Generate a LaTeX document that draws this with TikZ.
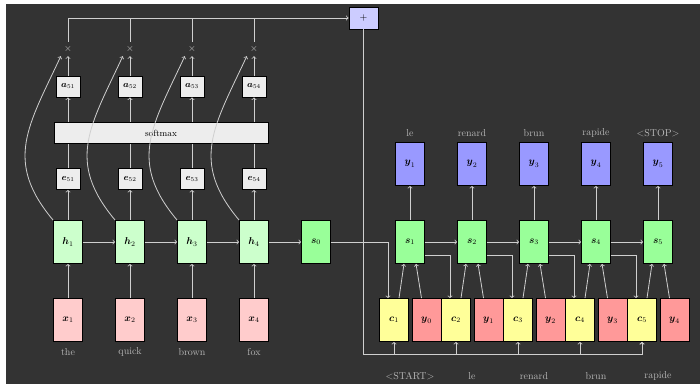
\documentclass[tikz,border=0pt]{standalone}
\usepackage{amsmath}
\usepackage{amssymb}
\usepackage{tikz}
\usetikzlibrary{arrows,calc,positioning}
\definecolor{bgcol}{HTML}{333333}
\definecolor{linecol}{HTML}{CFCFCF}
\definecolor{labcol}{HTML}{B8B8B8}
\definecolor{inpcol}{HTML}{FFCCCC}
\definecolor{hidcol}{HTML}{CCFFCC}
\definecolor{deccol}{HTML}{99FF99}
\definecolor{ctxcol}{HTML}{FFFF99}
\definecolor{prvcol}{HTML}{FF9999}
\definecolor{outcol}{HTML}{9999FF}
\definecolor{sumcol}{HTML}{CCCCFF}
\definecolor{attcol}{HTML}{EDEDED}
\tikzset{
    %Define standard arrow tip
    >=to,
    %Define style for boxes
    cell/.style={
           rectangle,
           draw=black, thick,
           minimum width=29pt,
           minimum height=43pt,
           inner sep=0pt,
           text centered},
    inp/.style={cell, fill=inpcol},
    hid/.style={cell, fill=hidcol},
    dec/.style={cell, fill=deccol},
    ctx/.style={cell, fill=ctxcol},
    prv/.style={cell, fill=prvcol},
    outp/.style={cell, fill=outcol},
    attn/.style={
           rectangle,
           draw=black, thick,
           minimum width=24pt,
           minimum height=21pt,
           inner sep=0pt,
           font=\small,
           fill=attcol},
    mult/.style={
           minimum size=14pt,
           inner sep=0pt,
           text=linecol},
    word/.style={
           text=labcol},
    % Define arrow style
    pil/.style={
           ->,
           draw=linecol,
           thick},
    wire/.style={
           draw=linecol,
           thick}
}

\begin{document}
\begin{tikzpicture}[x=1pt,y=1pt]
\useasboundingbox (0,0) rectangle (700,-387);
\fill[bgcol] (6,-4) rectangle (700,-384);
 %encoder nodes
\foreach \i/\x/\w in {1/68/the,2/130/quick,3/192/brown,4/254/fox}{
  \node[inp] (x\i) at (\x,-320) {$\boldsymbol{x}_\i$};
  \node[word] (w\i) at (\x,-352) {\w};
  \node[hid] (h\i) at (\x,-242) {$\boldsymbol{h}_\i$};
  \node[attn] (e\i) at (\x,-179) {$\boldsymbol{e}_{5\i}$};
  \node[attn] (a\i) at (\x,-86.5) {$\boldsymbol{a}_{5\i}$};
  \node[mult] (m\i) at (\x,-49) {$\times$};
}
\node[attn, minimum width=214pt] (soft) at (161,-133) {softmax};
\node[dec] (s0) at (316,-242) {$\boldsymbol{s}_0$};
\node[attn, fill=sumcol, minimum width=29pt, minimum height=22pt, font=\normalsize] (plus) at (363.5,-18) {$+$};
 %decoder nodes
\foreach \i/\x/\w/\v in {1/410/le/\textless START\textgreater,2/472/renard/le,3/534/brun/renard,4/596/rapide/brun,5/658/\textless STOP\textgreater/rapide}{
  \node[dec] (s\i) at (\x,-242) {$\boldsymbol{s}_\i$};
  \node[outp] (y\i) at (\x,-164) {$\boldsymbol{y}_\i$};
  \node[word] (t\i) at (\x,-133) {\w};
  \node[ctx] (c\i) at (\x-16,-320) {$\boldsymbol{c}_\i$};
  \pgfmathtruncatemacro{\j}{\i-1}
  \node[prv] (p\i) at (\x+16.5,-320) {$\boldsymbol{y}_\j$};
  \node[word] (v\i) at (\x,-376) {\v};
}
\coordinate (bus) at (363.5,-354);
 %encoder edges
\foreach \i in {1,...,4}{
  \draw[pil] (x\i) -- (h\i);
  \draw[pil] (h\i) -- (e\i);
  \draw[wire] (e\i) -- (e\i |- soft.south);
  \draw[pil] (a\i |- soft.north) -- (a\i);
  \draw[pil] (a\i) -- (m\i);
  \draw[pil] (h\i.north west) to[out=130,in=245,looseness=1.2] (m\i.south west);
}
\draw[pil] (h1) -- (h2);
\draw[pil] (h2) -- (h3);
\draw[pil] (h3) -- (h4);
\draw[pil] (h4) -- (s0);
\draw[pil] (m1.north) |- (plus.west);
\foreach \i in {2,3,4}
  \draw[wire] (m\i.north) -- (m\i |- plus.west);
 %decoder edges
\draw[pil] (s0.east) -| ([xshift=-6pt]c1.north);
\draw[pil] (plus.south) |- (c5.south |- bus) -- (c5.south);
\foreach \i in {1,...,5}{
  \draw[pil] (s\i) -- (y\i);
  \draw[pil] ([xshift=5pt]c\i.north) -- ([xshift=-6pt]s\i.south);
  \draw[pil] ([xshift=-5pt]p\i.north) -- ([xshift=6pt]s\i.south);
  \draw[pil] (c\i.south |- bus) -- (c\i.south);
}
\foreach \i/\j in {1/2,2/3,3/4,4/5}{
  \draw[pil] (s\i) -- (s\j);
  \draw[pil] ([yshift=-13pt]s\i.east) -| ([xshift=-6pt]c\j.north);
}
\end{tikzpicture}
\end{document}
